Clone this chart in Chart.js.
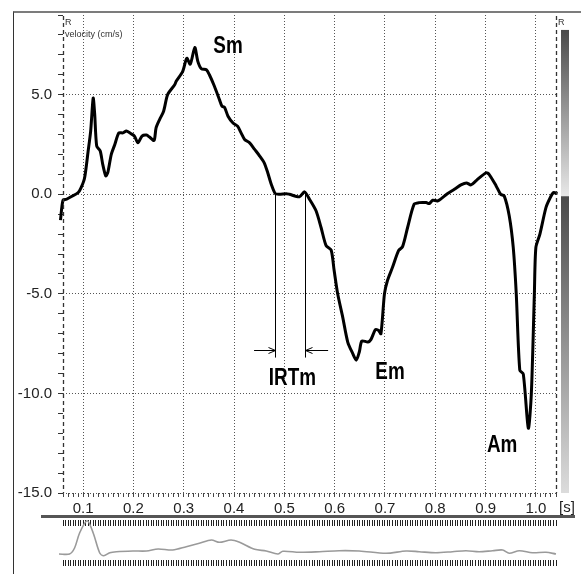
<!DOCTYPE html>
<html>
<head>
<meta charset="utf-8">
<script src="https://cdn.jsdelivr.net/npm/chart.js@4/dist/chart.umd.min.js"></script>
<style>
  body { margin: 0; background: #fff; }
  #wrap { position: relative; width: 581px; height: 574px; overflow: hidden; }
  #frame { position: absolute; left: 13px; top: 11px; width: 568px; height: 563px;
           border-top: 2px solid #7c7c7c; border-left: 1px solid #333; box-sizing: border-box; }
  #rule { position: absolute; left: 41px; top: 515px; width: 534px; height: 3px; background: #555; }
  #tvi { position: absolute; left: 0; top: 0; }
  #ecg { position: absolute; left: 0; top: 519px; }
</style>
</head>
<body>
<div id="wrap">
  <div id="frame"></div>
  <div id="rule"></div>
  <canvas id="tvi" width="581" height="516"></canvas>
  <canvas id="ecg" width="581" height="48"></canvas>
</div>
<script>
// velocity curve (s, cm/s)
const tvTime = [0.055, 0.060, 0.067, 0.090, 0.096, 0.103, 0.110, 0.115, 0.120, 0.123, 0.127, 0.134,
  0.139, 0.145, 0.149, 0.156, 0.163, 0.171, 0.179, 0.186, 0.196, 0.202, 0.209, 0.217, 0.226, 0.232,
  0.241, 0.245, 0.252, 0.260, 0.268, 0.282, 0.285, 0.298, 0.306, 0.313, 0.322, 0.328, 0.335, 0.345,
  0.351, 0.361, 0.371, 0.376, 0.381, 0.388, 0.398, 0.407, 0.414, 0.421, 0.431, 0.441, 0.451, 0.460,
  0.467, 0.474, 0.482, 0.490, 0.504, 0.510, 0.530, 0.540, 0.550, 0.563, 0.573, 0.583, 0.593, 0.599,
  0.606, 0.616, 0.626, 0.636, 0.643, 0.649, 0.654, 0.666, 0.672, 0.681, 0.687, 0.692, 0.699, 0.705,
  0.715, 0.727, 0.735, 0.745, 0.758, 0.768, 0.782, 0.788, 0.795, 0.805, 0.824, 0.838, 0.851, 0.862,
  0.871, 0.882, 0.901, 0.907, 0.921, 0.930, 0.937, 0.947, 0.955, 0.961, 0.968, 0.975, 0.985, 0.991,
  0.997, 1.000, 1.008, 1.020, 1.028, 1.035, 1.043];
const tvVelocity = [-1.3, -0.30, -0.25, 0.08, 0.33, 0.83, 2.17, 3.17, 4.83, 4.02, 2.42, 2.17,
  1.50, 0.92, 1.08, 2.00, 2.50, 3.08, 3.08, 3.17, 3.03, 2.92, 2.58, 2.92, 2.97, 2.87,
  2.70, 3.33, 3.75, 4.17, 5.00, 5.50, 5.67, 6.17, 6.83, 6.53, 7.37, 6.67, 6.30, 6.25,
  6.00, 5.42, 4.75, 4.42, 4.37, 3.92, 3.58, 3.42, 3.08, 2.75, 2.58, 2.25, 1.92, 1.58,
  1.08, 0.50, 0.03, 0.00, 0.03, 0.00, -0.13, 0.12, -0.25, -0.83, -1.67, -2.58, -2.80, -3.83,
  -5.00, -6.17, -7.42, -8.00, -8.33, -7.92, -7.37, -7.42, -7.30, -6.80, -6.83, -7.00, -5.00, -4.33,
  -3.67, -2.83, -2.63, -1.67, -0.50, -0.42, -0.42, -0.47, -0.30, -0.33, 0.03, 0.25, 0.47, 0.57,
  0.47, 0.70, 1.08, 1.00, 0.42, 0.00, -0.08, -1.08, -2.67, -5.00, -8.83, -9.03, -11.75, -10.00,
  -5.00, -2.67, -2.00, -0.67, -0.20, 0.08, 0.03];

// ECG trace under the plot (s, arbitrary units)
const ecgTime = [0.052, 0.073, 0.083, 0.093, 0.108, 0.120, 0.133, 0.141, 0.153, 0.166, 0.199, 0.226,
  0.249, 0.278, 0.305, 0.331, 0.355, 0.371, 0.394, 0.411, 0.441, 0.464, 0.487, 0.497, 0.530, 0.570,
  0.609, 0.649, 0.702, 0.742, 0.768, 0.801, 0.834, 0.861, 0.887, 0.914, 0.934, 0.947, 0.967, 0.993,
  1.020, 1.040];
const ecgValue = [0.10, 0.10, 0.70, 2.20, 3.43, 2.20, 0.20, -0.07, 0.23, 0.33, 0.40, 0.40,
  0.60, 0.50, 0.83, 1.17, 1.50, 1.27, 1.50, 1.27, 0.57, 0.40, 0.10, 0.37, 0.27, 0.33,
  0.43, 0.40, 0.17, 0.40, 0.33, 0.23, 0.33, 0.43, 0.33, 0.43, 0.50, 0.17, 0.43, 0.23,
  0.27, 0.10];

const xMin = 0.06, xMax = 1.04;
const yMin = -15, yMax = 9;

// markers
const markerLabels = ['Sm', 'IRTm', 'Em', 'Am'];
const markerTime = [0.388, 0.516, 0.710, 0.933];
const markerVelocity = [7.4, -9.25, -8.97, -12.6];
const irtStart = 0.4813, irtEnd = 0.5418;

Chart.defaults.font.family = "'Liberation Sans', Arial, sans-serif";
Chart.defaults.color = '#222';

const isTenth = v => Math.abs(v * 10 - Math.round(v * 10)) < 1e-6;
const isFifth = v => Math.abs(v / 5 - Math.round(v / 5)) < 1e-6;

function arrow(ctx, x1, x2, yy) {
  const dir = x2 > x1 ? 1 : -1;
  ctx.beginPath();
  ctx.moveTo(x1, yy); ctx.lineTo(x2, yy);
  ctx.moveTo(x2 - dir * 7, yy - 3); ctx.lineTo(x2, yy); ctx.lineTo(x2 - dir * 7, yy + 3);
  ctx.stroke();
}

const overlay = {
  id: 'overlay',
  afterDatasetsDraw(chart) {
    const { ctx, chartArea: a, scales: { x, y } } = chart;
    ctx.save();

    // dashed side borders
    ctx.strokeStyle = '#333';
    ctx.lineWidth = 1.3;
    ctx.setLineDash([4, 3]);
    ctx.beginPath();
    ctx.moveTo(a.left + 0.5, a.top + 1); ctx.lineTo(a.left + 0.5, a.bottom);
    ctx.moveTo(a.right + 0.5, a.top + 1); ctx.lineTo(a.right + 0.5, a.bottom);
    ctx.stroke();
    ctx.setLineDash([]);

    // grey scale bar
    const bx = a.right + 5, bw = 8;
    const segs = [[8.25, -0.1, '#e8e8e8'], [-0.1, yMin, '#dcdcdc']];
    segs.forEach(s => {
      const y1 = y.getPixelForValue(s[0]), y2 = y.getPixelForValue(s[1]);
      const g = ctx.createLinearGradient(0, y1, 0, y2);
      g.addColorStop(0, '#4a4a4a');
      g.addColorStop(1, s[2]);
      ctx.fillStyle = g;
      ctx.fillRect(bx, y1, bw, y2 - y1);
    });

    // small texts
    ctx.fillStyle = '#333';
    ctx.font = "9px 'Liberation Sans', Arial, sans-serif";
    ctx.textBaseline = 'top';
    ctx.textAlign = 'left';
    ctx.fillText('R', a.left + 2, a.top + 3);
    ctx.fillText('R', a.right + 2, a.top + 3);
    ctx.fillText('velocity (cm/s)', a.left + 2, a.top + 15);

    ctx.fillStyle = '#222';
    ctx.font = "15px 'Liberation Sans', Arial, sans-serif";
    ctx.textBaseline = 'middle';
    ctx.fillText('[s]', a.right + 3, a.bottom + 15);

    // IRT construction
    ctx.strokeStyle = '#000';
    ctx.lineWidth = 1;
    const lx = Math.round(x.getPixelForValue(irtStart)) + 0.5;
    const rx = Math.round(x.getPixelForValue(irtEnd)) + 0.5;
    const yb = y.getPixelForValue(-8.2);
    ctx.beginPath();
    ctx.moveTo(lx, y.getPixelForValue(0)); ctx.lineTo(lx, yb);
    ctx.moveTo(rx, y.getPixelForValue(0.15)); ctx.lineTo(rx, yb);
    ctx.stroke();
    const ay = Math.round(y.getPixelForValue(-7.8)) + 0.5;
    arrow(ctx, x.getPixelForValue(0.4398), lx, ay);
    arrow(ctx, x.getPixelForValue(0.587), rx, ay);

    // wave labels, condensed bold
    ctx.fillStyle = '#000';
    ctx.font = "bold 23px 'Liberation Sans Narrow', 'Liberation Sans', sans-serif";
    ctx.textAlign = 'center';
    markerLabels.forEach((txt, i) => {
      const px = x.getPixelForValue(markerTime[i]);
      const py = y.getPixelForValue(markerVelocity[i]);
      ctx.save();
      ctx.translate(px, py);
      ctx.scale(0.82, 1);
      ctx.fillText(txt, 0, 0);
      ctx.restore();
    });
    ctx.restore();
  }
};

new Chart(document.getElementById('tvi'), {
  type: 'line',
  data: {
    datasets: [{
      data: tvTime.map((t, i) => ({ x: t, y: tvVelocity[i] })),
      borderColor: '#000',
      borderWidth: 3,
      pointRadius: 0,
      tension: 0.25,
      clip: false
    }]
  },
  options: {
    responsive: false,
    animation: false,
    layout: { padding: { top: 13, right: 25, left: 0, bottom: 0 } },
    plugins: { legend: { display: false }, tooltip: { enabled: false } },
    scales: {
      x: {
        type: 'linear',
        min: xMin, max: xMax,
        afterFit: s => { s.height = 23; },
        border: { display: false, dash: [1, 2] },
        grid: {
          color: c => (isTenth(c.tick.value) ? '#555' : 'rgba(0,0,0,0)'),
          lineWidth: 1,
          tickColor: '#444',
          tickLength: 4
        },
        ticks: {
          stepSize: 0.01,
          autoSkip: false,
          maxRotation: 0,
          padding: 3,
          font: { size: 15 },
          callback: v => (isTenth(v) ? v.toFixed(1) : '')
        }
      },
      y: {
        min: yMin, max: yMax,
        afterFit: s => { s.width = 63; },
        border: { display: false, dash: [1, 2] },
        grid: {
          color: c => (isFifth(c.tick.value) ? '#555' : 'rgba(0,0,0,0)'),
          lineWidth: 1,
          tickColor: '#333',
          tickLength: 5
        },
        ticks: {
          stepSize: 1,
          autoSkip: false,
          padding: 6,
          font: { size: 15 },
          callback: v => (isFifth(v) ? v.toFixed(1) : '')
        }
      }
    }
  },
  plugins: [overlay]
});

const ecgTicks = {
  type: 'linear',
  min: xMin, max: xMax,
  afterFit: s => { s.height = 7; },
  border: { display: false },
  grid: { drawOnChartArea: false, tickLength: 6, tickColor: '#222', tickWidth: 1 },
  ticks: { display: false, stepSize: 0.005 }
};

new Chart(document.getElementById('ecg'), {
  type: 'line',
  data: {
    datasets: [{
      data: ecgTime.map((t, i) => ({ x: t, y: ecgValue[i] })),
      borderColor: '#9a9a9a',
      borderWidth: 1.6,
      pointRadius: 0,
      tension: 0.3,
      clip: false,
      xAxisID: 'x'
    }]
  },
  options: {
    responsive: false,
    animation: false,
    layout: { padding: { top: 0, right: 25, left: 63, bottom: 0 } },
    plugins: { legend: { display: false }, tooltip: { enabled: false } },
    scales: {
      x: { ...ecgTicks, position: 'bottom' },
      xTop: { ...ecgTicks, position: 'top' },
      y: { display: false, min: -0.5, max: 2.9 }
    }
  }
});
</script>
</body>
</html>
